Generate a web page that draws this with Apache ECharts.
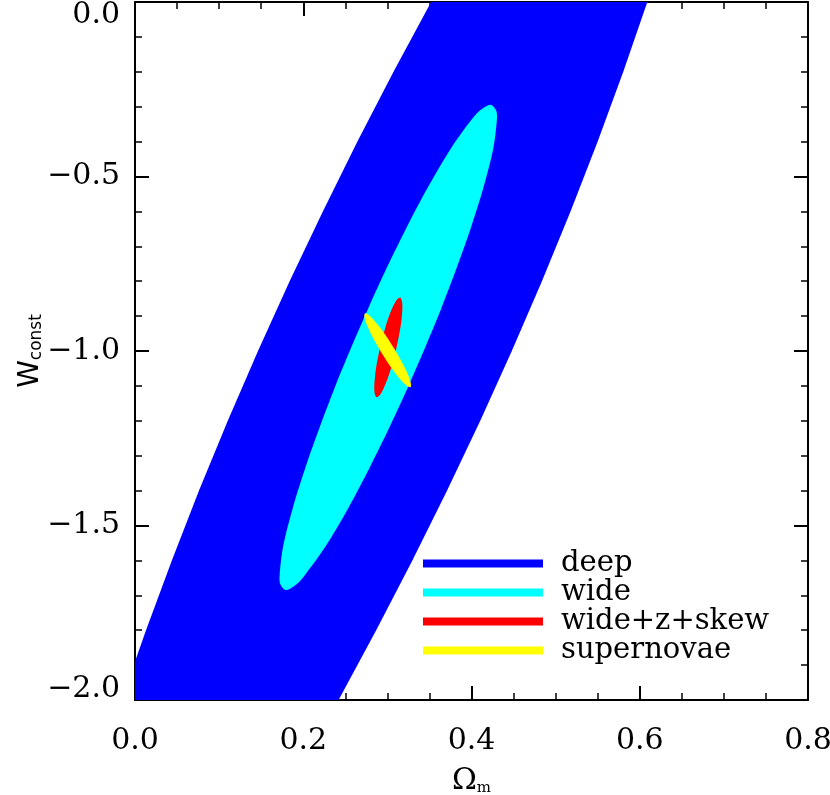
<!DOCTYPE html>
<html><head><meta charset="utf-8">
<script src="https://cdn.jsdelivr.net/npm/echarts@6/dist/echarts.min.js"></script>
<style>html,body{margin:0;padding:0;background:#fff}#c{width:830px;height:795px}</style>
</head><body><div id="c"></div>
<script>
const seriesNames = ['deep', 'wide', 'wide+z+skew', 'supernovae'];
const seriesColors = ['#0000ff', '#00ffff', '#ff0000', '#ffff00'];
const xTickValues = [0, 0.2, 0.4, 0.6, 0.8];
const xTickLabels = ['0.0', '0.2', '0.4', '0.6', '0.8'];
const yTickValues = [0, -0.5, -1, -1.5, -2];
const yTickLabels = ['0.0', '\u22120.5', '\u22121.0', '\u22121.5', '\u22122.0'];

// contour outlines [Omega_m, w_const]
const deepContour = [
  [0.352, 0], [0.3073, -0.2], [0.2644, -0.4], [0.2233, -0.6], [0.1838, -0.8],
  [0.1462, -1.0], [0.1103, -1.2], [0.0761, -1.4], [0.0438, -1.6], [0.0131, -1.8],
  [0, -1.89], [0, -2], [0.242, -2],
  [0.2867, -1.8], [0.3297, -1.6], [0.3710, -1.4], [0.4104, -1.2], [0.4479, -1.0],
  [0.4837, -0.8], [0.5177, -0.6], [0.5500, -0.4], [0.5804, -0.2], [0.609, 0]
];
const wideContour = [
  [0.4226, -0.2943], [0.4291, -0.3096], [0.4303, -0.3324], [0.4260, -0.4181], [0.4141, -0.5324],
  [0.3993, -0.6467], [0.3825, -0.7610], [0.3645, -0.8753], [0.3450, -0.9896], [0.3244, -1.1039],
  [0.3026, -1.2181], [0.2793, -1.3324], [0.2543, -1.4467], [0.2262, -1.5610], [0.2005, -1.6467],
  [0.1914, -1.6696], [0.1795, -1.6849], [0.1730, -1.6696], [0.1718, -1.6467], [0.1760, -1.5610],
  [0.1879, -1.4467], [0.2028, -1.3324], [0.2196, -1.2181], [0.2376, -1.1039], [0.2571, -0.9896],
  [0.2777, -0.8753], [0.2994, -0.7610], [0.3227, -0.6467], [0.3478, -0.5324], [0.3759, -0.4181],
  [0.4015, -0.3324], [0.4107, -0.3096]
];
const skewContour = [
  [0.3150, -0.8467], [0.3177, -0.8632], [0.3169, -0.9080], [0.3141, -0.9516], [0.3104, -0.9947],
  [0.3058, -1.0373], [0.3002, -1.0794], [0.2927, -1.1204], [0.2873, -1.1324], [0.2846, -1.1158],
  [0.2854, -1.0710], [0.2881, -1.0274], [0.2919, -0.9844], [0.2965, -0.9417], [0.3020, -0.8996],
  [0.3096, -0.8587]
];
const snContour = [
  [0.2732, -0.8924], [0.2788, -0.8987], [0.2893, -0.9269], [0.2985, -0.9570], [0.3069, -0.9884],
  [0.3147, -1.0205], [0.3219, -1.0537], [0.3276, -1.0890], [0.3275, -1.1038], [0.3219, -1.0975],
  [0.3114, -1.0693], [0.3022, -1.0391], [0.2938, -1.0078], [0.2860, -0.9757], [0.2788, -0.9425],
  [0.2731, -0.9072]
];
const contours = [deepContour, wideContour, skewContour, snContour];
const smoothness = [0, 0.3, 0.35, 0.35];

const SERIF = 'DejaVu Serif';
const SANS = 'DejaVu Sans';

function lookup(vals, labels, v) {
  for (let i = 0; i < vals.length; i++) if (Math.abs(vals[i] - v) < 1e-9) return labels[i];
  return '';
}

function makeSeries(i) {
  const pts = contours[i];
  return {
    type: 'custom',
    name: seriesNames[i],
    xAxisIndex: 0, yAxisIndex: 0,
    clip: true,
    z: 2 + i,
    itemStyle: { color: seriesColors[i] },
    data: pts,
    renderItem: function (params, api) {
      if (params.dataIndex !== 0) return null;
      const p = pts.map(function (d) { return api.coord(d); });
      return {
        type: 'polygon',
        shape: { points: p, smooth: smoothness[i] },
        style: { fill: seriesColors[i], stroke: null }
      };
    }
  };
}

const axisLineStyle = { show: true, onZero: false, lineStyle: { color: '#000', width: 2 } };
const majorTick = { show: true, inside: true, length: 14, lineStyle: { color: '#000', width: 2 } };

const option = {
  animation: false,
  backgroundColor: '#fff',
  grid: { left: 135, right: 22, top: 2, bottom: 95, containLabel: false, outerBoundsMode: 'none' },
  legend: {
    orient: 'vertical',
    left: 423, top: 549, padding: 0,
    itemWidth: 120, itemHeight: 8, itemGap: 0,
    icon: 'rect',
    selectedMode: false,
    data: seriesNames.map(function (n, i) { return { name: n, itemStyle: { color: seriesColors[i] } }; }),
    textStyle: { fontFamily: SERIF, fontSize: 29, color: '#000', lineHeight: 26, padding: [0, 0, 0, 13] }
  },
  xAxis: [
    {
      type: 'value', position: 'bottom', min: 0, max: 0.8, interval: 0.2,
      axisLine: axisLineStyle,
      axisTick: majorTick,
      minorTick: { show: true, splitNumber: 4, length: 7, lineStyle: { color: '#000', width: 1.5 } },
      splitLine: { show: false },
      axisLabel: {
        show: true, margin: 26, showMinLabel: true, showMaxLabel: true,
        fontFamily: SERIF, fontSize: 30, color: '#000',
        formatter: function (v) { return lookup(xTickValues, xTickLabels, v); }
      },
      name: '{a|\u03A9}{b|m}',
      nameLocation: 'middle', nameGap: 66, nameMoveOverlap: false,
      nameTextStyle: {
        rich: {
          a: { fontFamily: SERIF, fontSize: 30, color: '#000', lineHeight: 30, verticalAlign: 'top', padding: [0, 0, 8, 0] },
          b: { fontFamily: SERIF, fontSize: 15, color: '#000', lineHeight: 15, verticalAlign: 'bottom' }
        }
      }
    },
    {
      type: 'value', position: 'top', min: 0, max: 0.8, interval: 0.2,
      axisLine: axisLineStyle,
      axisTick: majorTick,
      minorTick: { show: true, splitNumber: 4, length: 7, lineStyle: { color: '#000', width: 1.5 } },
      splitLine: { show: false },
      axisLabel: { show: false }
    }
  ],
  yAxis: [
    {
      type: 'value', position: 'left', min: -2, max: 0, interval: 0.5,
      axisLine: axisLineStyle,
      axisTick: majorTick,
      minorTick: { show: true, splitNumber: 5, length: 7, lineStyle: { color: '#000', width: 1.5 } },
      splitLine: { show: false },
      axisLabel: {
        show: true, margin: 15, showMinLabel: true, showMaxLabel: true,
        fontFamily: SERIF, fontSize: 30, color: '#000',
        formatter: function (v) {
          const s = lookup(yTickValues, yTickLabels, v);
          if (Math.abs(v) < 1e-9) return '{top|' + s + '}';
          if (Math.abs(v + 2) < 1e-9) return '{bot|' + s + '}';
          return s;
        },
        rich: {
          top: { fontFamily: SERIF, fontSize: 30, color: '#000', padding: [26, 0, 0, 0] },
          bot: { fontFamily: SERIF, fontSize: 30, color: '#000', padding: [0, 0, 22, 0] }
        }
      },
      name: '{w|W}{s|const}',
      nameLocation: 'middle', nameRotate: 90, nameGap: 90, nameMoveOverlap: false,
      nameTextStyle: {
        rich: {
          w: { fontFamily: SANS, fontSize: 28, color: '#000', lineHeight: 28, verticalAlign: 'top', padding: [0, 0, 7, 0] },
          s: { fontFamily: SANS, fontSize: 17, color: '#000', lineHeight: 17, verticalAlign: 'bottom' }
        }
      }
    },
    {
      type: 'value', position: 'right', min: -2, max: 0, interval: 0.5,
      axisLine: axisLineStyle,
      axisTick: majorTick,
      minorTick: { show: true, splitNumber: 5, length: 7, lineStyle: { color: '#000', width: 1.5 } },
      splitLine: { show: false },
      axisLabel: { show: false }
    }
  ],
  series: [0, 1, 2, 3].map(makeSeries)
};

const chart = echarts.init(document.getElementById('c'), null, { renderer: 'canvas' });
chart.setOption(option);
</script>
</body></html>
